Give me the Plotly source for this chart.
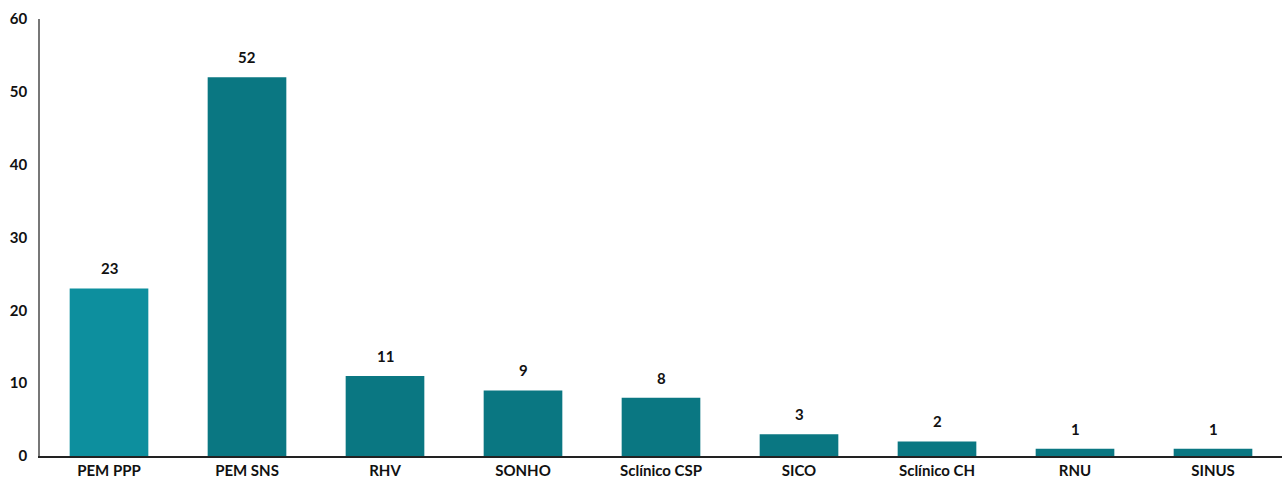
import plotly.graph_objects as go

categories = ["PEM PPP", "PEM SNS", "RHV", "SONHO", "Sclínico CSP", "SICO", "Sclínico CH", "RNU", "SINUS"]
values = [23, 52, 11, 9, 8, 3, 2, 1, 1]
bar_colors = ["#0d8f9e"] + ["#0a7782"] * 8
y_ticks = [0, 10, 20, 30, 40, 50, 60]

font_family = "Lato, 'Noto Sans', sans-serif"

fig = go.Figure()
fig.add_trace(go.Bar(
    x=categories, y=values, marker=dict(color=bar_colors, line=dict(width=0)),
    width=0.57, hoverinfo="skip",
))
for c, v in zip(categories, values):
    fig.add_annotation(x=c, y=v, text=f"<b>{v}</b>", showarrow=False,
                       yanchor="bottom", yshift=9,
                       font=dict(family=font_family, size=15, color="#111"))

fig.update_layout(
    width=1283, height=481,
    margin=dict(l=40, r=1, t=19, b=25),
    plot_bgcolor="white", paper_bgcolor="white",
    showlegend=False, bargap=0.43,
    font=dict(family=font_family, size=15, color="#111"),
)
fig.update_xaxes(
    showline=True, linecolor="#222", linewidth=1.5, showgrid=False,
    ticks="", tickfont=dict(family=font_family, size=15, color="#111"),
    tickvals=categories, ticktext=[f"<b>{c}</b>" for c in categories],
)
fig.update_yaxes(
    range=[0, 60], showline=True, linecolor="#777", linewidth=1.5, showgrid=False,
    zeroline=False, ticks="", tickvals=y_ticks, ticktext=[f"<b>{t}</b>" for t in y_ticks],
    tickfont=dict(family=font_family, size=15, color="#111"), ticklabelstandoff=8,
)
fig.write_html("out.html")
